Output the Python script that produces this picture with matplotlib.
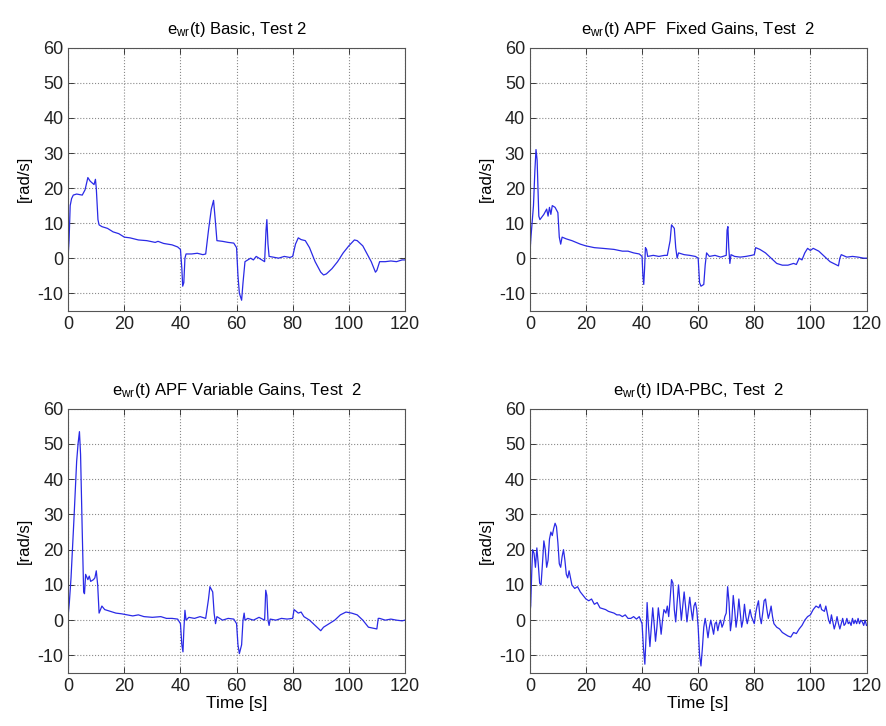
import matplotlib.pyplot as plt

plt.rcParams['font.family'] = ['Liberation Sans', 'DejaVu Sans']
plt.rcParams['mathtext.default'] = 'regular'
plt.rcParams['axes.unicode_minus'] = False

# ---- data (time [s], error [rad/s]) ----
t_basic = [0, 0.3, 0.7, 1.2, 1.8, 3, 5, 6, 7, 7.8, 8.5, 9.2, 9.7, 10, 10.6, 11, 12, 14, 16, 18,
           20, 22, 25, 28, 31, 32, 34, 37, 39, 40, 40.5, 40.8, 41.2, 41.6, 42, 44, 46, 48, 49, 50,
           51, 51.8, 52.5, 53, 55, 57, 59, 60, 60.5, 61, 61.8, 62.3, 63, 64, 65, 66, 67, 68, 70,
           70.5, 70.8, 71.2, 71.6, 73, 75, 77, 79, 80, 81, 82, 83, 84.5, 86, 88, 90, 91, 92, 94,
           96, 98, 100, 102, 103, 105, 106, 108, 109.5, 110, 111, 113, 115, 117, 119, 120]
e_basic = [1, 5, 15, 17, 18, 18.3, 18, 19.5, 23, 22, 21.5, 21, 22.5, 20, 11, 9.5, 9, 8.5, 7.5, 7,
           6, 5.8, 5.2, 5, 4.5, 4.8, 4.2, 3.8, 3.2, 2.5, -3, -8, -7, 0, 1.2, 1.2, 1.4, 1, 1.2, 8,
           14, 16.5, 10, 5, 4.8, 4.5, 4.3, 3, -5, -10, -12, -7, -1, -0.5, 0, -0.5, 0.5, 0, -1,
           8, 11, 4, 0.5, 0.3, 0, 0.5, 0.2, 0.5, 4, 5.8, 5.3, 5, 3, -1, -4, -4.8, -4.5, -3,
           -1, 1.5, 3.5, 5.2, 5, 3.5, 2, -1, -4, -3.5, -1, -1, -0.8, -1, -0.5, -0.5]

t_fixed = [0, 0.4, 0.8, 1.3, 1.8, 2.2, 2.6, 3.2, 3.6, 5, 6, 6.5, 7, 7.5, 8, 9, 10, 10.5, 11, 11.5,
           13, 15, 18, 20, 23, 26, 30, 33, 35, 37, 39, 40, 40.3, 40.6, 40.9, 41.2, 41.6, 42, 44,
           46, 48, 49, 50, 50.5, 51.5, 52, 52.5, 53, 55, 57, 59, 60, 60.5, 61, 62, 62.5, 63, 64,
           66, 68, 70, 70.3, 70.6, 70.9, 71.3, 71.7, 73, 75, 77, 79, 80, 80.5, 82, 84, 86, 88,
           90, 92, 94, 95, 96, 97, 98, 99, 100, 101, 103, 105, 107, 109, 110, 110.5, 111, 113,
           115, 117, 119, 120]
e_fixed = [1, 6, 10, 15, 25, 31, 28, 12, 11, 12.5, 14, 12, 14.5, 12.5, 15, 14.5, 13, 6, 4, 6,
           5.5, 5, 4, 3.5, 3, 2.8, 2.5, 2, 2, 1.5, 1.2, 0.5, -5, -7.5, -3, 3, 2.5, 0.5, 0.8,
           0.5, 0.8, 0.8, 5, 9.5, 8.5, 3, 0, 1.5, 1, 0.8, 0.5, 0, -7, -8, -7.5, -2, 1.5, 0.5,
           0.8, 0.3, 0.8, 8, 9, 3, -1.5, 1, 0.5, 0.3, 0.5, 0.8, 1, 3, 2.5, 1.5, 0, -1.5,
           -2, -2, -1.5, -1.8, 0, -0.5, 1.5, 2.8, 2.2, 2.8, 2, 0.5, -1, -1.8, -2.2, 0, 1, 0.3,
           0.5, 0.3, 0, 0]

t_var = [0, 0.4, 1, 2, 3, 3.5, 4, 4.4, 5, 5.5, 5.8, 6.2, 7, 7.5, 8, 9, 9.5, 10, 10.5, 11, 11.5,
         12, 13, 15, 17, 19, 21, 23, 25, 27, 30, 33, 35, 37, 39, 40, 40.5, 40.9, 41.2, 41.6, 42,
         43, 45, 47, 49, 50, 50.5, 51.5, 52, 52.5, 53, 55, 57, 59, 60, 60.5, 61, 61.8, 62.3,
         62.7, 63, 64, 66, 68, 70, 70.4, 70.8, 71.2, 71.6, 72, 74, 76, 78, 80, 80.5, 82, 83, 84,
         86, 88, 90, 91, 93, 95, 97, 99, 101, 103, 105, 107, 110, 110.5, 111, 113, 115, 117,
         119, 120]
e_var = [1.5, 5, 12, 28, 45, 50, 53.5, 47, 25, 8, 7.5, 13, 11.5, 12.5, 11, 11.5, 12, 14, 10, 2, 3,
         4, 3, 2.5, 2, 1.8, 1.5, 1.2, 1.5, 1, 0.8, 1, 0.5, 0.5, 0.3, -1, -7, -9, -3, 2.8, 0,
         0.8, 0.5, 1, 0.5, 6, 9.5, 8, 2, -1, 1, 0, 0.5, 0.3, -1, -7, -9.5, -7, 0,
         2, 0, 0.5, 0, 0.8, 0, 8.5, 7, 0, -1.5, 0.3, 0, 0.5, 0.3, 0.5, 3, 2, 2.3, 1,
         0, -1.5, -3, -2, -1, 0, 1.5, 2.3, 2, 1.5, 0, -2, -2.5, 0.5, 0.5, 0, 0.3, 0,
         -0.2, 0]

t_ida = [0, 0.3, 0.7, 1, 1.5, 2, 2.5, 3, 3.5, 4, 4.5, 5, 5.5, 6, 6.5, 7, 7.5, 8, 8.5, 9, 9.5, 10,
         10.5, 11, 11.5, 12, 12.5, 13, 13.5, 14, 14.5, 15, 16, 17, 18, 19, 20, 21, 22, 23, 24, 25,
         27, 28, 30, 31, 32, 33, 34, 35, 36, 37, 38, 39, 40, 40.5, 41, 41.4, 41.8, 42.3, 42.8,
         43.3, 43.8, 44.3, 44.8, 45.3, 45.8, 46.3, 46.8, 47.3, 47.8, 48.5, 49, 49.5, 50, 50.5,
         51, 51.5, 52, 52.5, 53, 53.5, 54, 54.5, 55, 55.5, 56, 56.5, 57, 57.5, 58, 58.5, 59,
         59.5, 60, 60.5, 61, 61.5, 62, 62.5, 63, 63.5, 64, 64.5, 65, 65.5, 66, 66.5, 67, 67.5,
         68, 68.5, 69, 69.5, 70, 70.5, 71, 71.5, 72, 72.5, 73, 73.5, 74, 74.5, 75, 75.5, 76,
         76.5, 77, 77.5, 78, 78.5, 79, 80, 80.5, 81, 81.5, 82, 82.5, 83, 83.5, 84, 84.5, 85,
         85.5, 86, 86.5, 87, 88, 89, 90, 91, 92, 93, 94, 95, 96, 97, 98, 99, 100, 101, 102, 103,
         103.5, 104, 105, 105.5, 106, 106.5, 107, 107.5, 108, 108.5, 109, 109.5, 110, 110.5,
         111, 111.5, 112, 112.5, 113, 113.5, 114, 114.5, 115, 115.5, 116, 116.5, 117, 117.5,
         118, 118.5, 119, 119.5, 120]
e_ida = [2, 4, 14, 20, 19, 15, 20.5, 16, 10.5, 10, 16, 22.5, 20, 15, 17, 23, 25, 24, 26, 27.5, 26.5,
         22, 16, 15, 18, 20, 17, 13, 12, 14, 12, 10, 9, 9.5, 8, 7, 6, 5.5, 6, 4.5, 5, 3.5,
         3, 2.5, 2, 1.5, 1.5, 1, 1.5, 0.5, 0.5, 1, 0.3, 1, -1, -8, -12.5, -5, 5, -2, -7.5,
         -2, 3.5, -1, -6, -2, 3.5, 0, -4, 0, 3, 2, 4, 1, 6, 11.5,
         10.5, 3, -0.5, 5, 10, 5, 0, 4, 8, 4, -0.5, 3, 6.5, 3, 0, 4, 5,
         3, -2, -10, -13, -8, -2, 0.5, -2, -5, -2, 0, -2, -4, -1, -0.5, -3, -1,
         0, -2, -1, 1, 2, 9.5, 5, -3, 0, 7, 3, -2, 1, 6, 2, -2, 0,
         4.5, 1, -1, 1, 3, 1, -1, 2, 4, 5.5, 1, -1, 2, 5.5, 6, 3, 0.5,
         2, 4, 1, -1, -2, -2.5, -3.5, -4, -4.5, -4.8, -3.5, -3.8, -2.5, -1.5, 0, 1, 1.5, 3, 4, 3.5,
         4.5, 3, 2.5, 4, 2, 0, -1, 1.5, -0.5, -2.5, -1, 1, -1, -2.5,
         -1, 0.5, -1.5, -1, 0.5, -1, -0.5, -1.5, 0.5, -1, 0, -1, 0.5, -1,
         0, -0.5, -1.5, 0, -1.5]

titles = [r'$e_{wr}$(t) Basic, Test 2',
          r'$e_{wr}$(t) APF  Fixed Gains, Test  2',
          r'$e_{wr}$(t) APF Variable Gains, Test  2',
          r'$e_{wr}$(t) IDA-PBC, Test  2']
series = [(t_basic, e_basic), (t_fixed, e_fixed), (t_var, e_var), (t_ida, e_ida)]
x_ticks = [0, 20, 40, 60, 80, 100, 120]
y_ticks = [-10, 0, 10, 20, 30, 40, 50, 60]

fig = plt.figure(figsize=(8.86, 7.26), dpi=100)
# axes boxes in figure fractions: top-left, top-right, bottom-left, bottom-right
boxes = [[0.077, 0.572, 0.380, 0.362],
         [0.598, 0.572, 0.380, 0.362],
         [0.077, 0.073, 0.380, 0.364],
         [0.598, 0.073, 0.380, 0.364]]

for i, (box, title, (t, e)) in enumerate(zip(boxes, titles, series)):
    ax = fig.add_axes(box)
    ax.plot(t, e, color='#2a2ae6', linewidth=0.9)
    ax.set_xlim(0, 120)
    ax.set_ylim(-15, 60)
    ax.set_xticks(x_ticks)
    ax.set_yticks(y_ticks)
    ax.grid(True, linestyle=':', color='#8a8a8a', linewidth=0.8)
    ax.tick_params(direction='in', top=True, right=True, labelsize=13,
                   length=4, width=0.6, colors='#222222')
    for sp in ax.spines.values():
        sp.set_color('#555555')
        sp.set_linewidth(0.8)
    ax.set_title(title, fontsize=12, pad=10)
    ax.set_ylabel('[rad/s]', fontsize=12, labelpad=4)
    if i >= 2:
        ax.set_xlabel('Time [s]', fontsize=12.5, labelpad=1)

fig.savefig('out.png', dpi=100)
